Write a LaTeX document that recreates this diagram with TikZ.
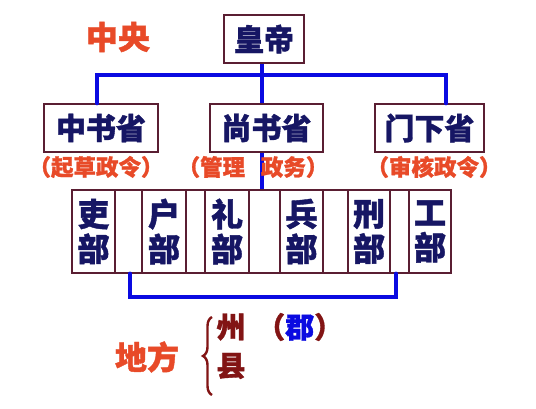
\documentclass[tikz,border=0pt]{standalone}
\usepackage{fontspec}
\newfontfamily\cjk{Noto Sans CJK SC}[BoldFeatures={FakeBold=1.2}]
\usetikzlibrary{decorations.pathreplacing}
\definecolor{navy}{RGB}{22,22,100}
\definecolor{boxc}{RGB}{90,30,50}
\definecolor{lineblue}{RGB}{10,10,225}
\definecolor{orng}{RGB}{232,74,40}
\definecolor{dred}{RGB}{130,20,20}
\tikzset{
  box/.style={draw=boxc, line width=1.3pt, fill=white, inner sep=0pt, text=navy, font=\cjk\bfseries\fontsize{30}{30}\selectfont},
  cell/.style={draw=boxc, line width=1.1pt, fill=white, inner sep=0pt, minimum height=83pt, text=navy, align=center, font=\cjk\bfseries\fontsize{32}{35}\selectfont},
  conn/.style={draw=lineblue, line width=4pt},
  lab/.style={inner sep=0pt, text=orng, font=\cjk\bfseries\fontsize{22.5}{22.5}\selectfont},
  big/.style={inner sep=0pt, text=orng, font=\cjk\bfseries\fontsize{32}{32}\selectfont},
  loc/.style={inner sep=0pt, text=dred, font=\cjk\bfseries\fontsize{29}{29}\selectfont}
}
\begin{document}
\begin{tikzpicture}[x=1pt,y=-1pt]
\useasboundingbox[fill=white] (0,0) rectangle (536,409);
% top level
\node[box, minimum width=80pt, minimum height=48pt] (emp) at (264,39) {皇帝};
\node[box, minimum width=114pt, minimum height=48pt] (zhong) at (101,128) {中书省};
\node[box, minimum width=113pt, minimum height=48pt] (shang) at (266.5,128) {尚书省};
\node[box, minimum width=109pt, minimum height=48pt] (men) at (429.5,128) {门下省};
\coordinate (hl) at (97,75);
\coordinate (hr) at (446,75);
\coordinate (vx) at (262,75);
% departments
\node[draw=boxc, line width=1.1pt, minimum width=379pt, minimum height=83pt, inner sep=0pt] (depts) at (261.5,231.5) {};
\node[cell, minimum width=43pt] (d1) at (93.5,231.5) {吏\\部};
\node[cell, minimum width=27pt] (b1) at (128.5,231.5) {};
\node[cell, minimum width=44pt] (d2) at (164,231.5) {户\\部};
\node[cell, minimum width=19pt] (b2) at (195.5,231.5) {};
\node[cell, minimum width=44pt] (d3) at (227,231.5) {礼\\部};
\node[cell, minimum width=31pt] (b3) at (264.5,231.5) {};
\node[cell, minimum width=43pt] (d4) at (301.5,231.5) {兵\\部};
\node[cell, minimum width=25pt] (b4) at (335.5,231.5) {};
\node[cell, minimum width=42pt] (d5) at (369,231.5) {刑\\部};
\node[cell, minimum width=19pt] (b5) at (399.5,231.5) {};
\node[cell, minimum width=42pt] (d6) at (430,231.5) {工\\部};
% connectors
\draw[conn] (vx |- emp.south) -- (vx |- shang.north);
\draw[conn, line cap=round] (hl |- zhong.north) -- (hl) -- (hr) -- (hr |- men.north);
\draw[conn] (vx |- shang.south) -- (vx |- depts.north);
\coordinate (bl) at (130,297);
\coordinate (br) at (396,297);
\draw[conn, line cap=round] (bl |- depts.south) -- (bl) -- (br) -- (br |- depts.south);
% labels
\node[lab] (l1) at (96,167) {（起草政令）};
\node[lab] (l2) at (253,167) {（管理\hspace{0.7em}政务）};
\node[lab] (l3) at (434,167) {（审核政令）};
\node[big] (zy) at (118,37) {中央};
\node[big] (df) at (147,357) {地方};
\draw[dred, line width=2.4pt, decorate, decoration={brace, amplitude=9pt}] (212,395) -- (212,317);
\node[loc] (zhou) at (231,327) {州};
\node[loc] (xian) at (231,366) {县};
\node[loc, anchor=west] (jun) at (256,327) {（\textcolor{lineblue}{郡}）};
\end{tikzpicture}
\end{document}
